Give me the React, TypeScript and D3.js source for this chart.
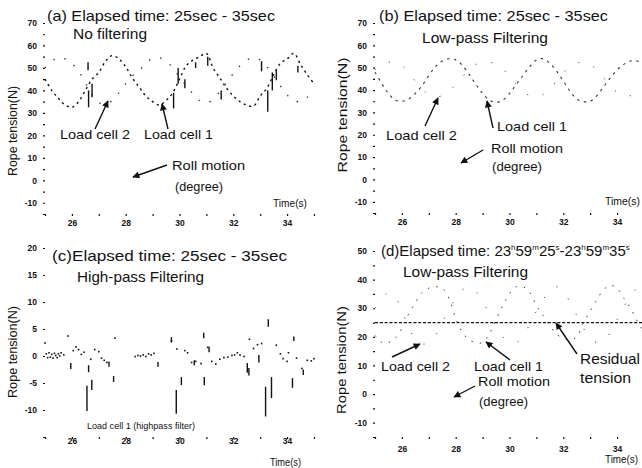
import React, { useEffect, useRef } from 'react';
import * as d3 from 'd3';

// sample times (s) for the sampled traces
const timeGrid = [25, 25.25, 25.5, 25.75, 26, 26.25, 26.5, 26.75, 27, 27.25, 27.5, 27.75, 28, 28.25, 28.5, 28.75, 29, 29.25, 29.5, 29.75, 30, 30.25, 30.5, 30.75, 31, 31.25, 31.5, 31.75, 32, 32.25, 32.5, 32.75, 33, 33.25, 33.5, 33.75, 34, 34.25, 34.5, 34.75, 35];
const timeTicks = [25, 26, 27, 28, 29, 30, 31, 32, 33, 34, 35];

// (a) no filtering
const rawCell1 = [45, 40, 36.5, 33.5, 32.5, 35, 40, 45, 48, 53, 55.5, 54, 50.5, 45.5, 41.5, 37.5, 35, 33.5, 35.5, 39, 45, 51, 53.5, 55, 56.5, 50, 45.5, 41, 37.5, 35, 33.5, 33, 37.5, 41, 47, 52, 54, 56.5, 51.5, 47, 43];
const rawCell2 = [50, 53, 54.5, 54, 52, 48.5, 43.5, 38, 34.5, 34, 35.5, 39, 43, 46.5, 48.5, 52.5, 54, 54.5, 53, 50, 46, 42, 38.5, 35.5, 34.5, 36, 39.5, 43.5, 47.5, 51, 53.5, 54.5, 53.5, 50.5, 46.5, 42, 38, 35.5, 35, 37, 40];
const rawSpikeTime = [26.6, 26.62, 26.75, 29.78, 29.95, 30.2, 30.6, 31.05, 31.55, 33.05, 33.28, 33.45, 33.6, 34.4];
const rawSpikeLow = [49, 32.5, 37, 32, 43, 41, 50, 51, 36, 48.5, 30.5, 40, 44.5, 48];
const rawSpikeHigh = [52.5, 40, 43, 39, 50, 45, 52.5, 55, 40, 53, 40, 48, 49, 51];

// (b) low-pass filtering
const lowCell1 = [48, 43, 38.5, 35.5, 35, 36, 38.5, 42, 46.5, 50.5, 53, 54, 53.5, 51, 47, 42.5, 38.5, 35.5, 34.5, 35.5, 38.5, 42.5, 46.5, 50.5, 53.5, 54, 52, 48.5, 44, 39.5, 36, 34.8, 35, 37.5, 41.5, 45.5, 49, 51.5, 53, 53, 51.5];
const lowCell2 = [49, 51.5, 52.5, 52.5, 51, 48, 44, 40.5, 38, 37, 37.5, 39.5, 42.5, 46, 49, 51.5, 52.5, 52.5, 51.5, 49.5, 46, 42.5, 39.5, 37.5, 37, 38, 40.5, 44, 47.5, 50.5, 52, 52.5, 51.5, 49, 45.5, 42, 39, 37.5, 37.5, 39, 41.5];

// (c) high-pass filtering, load cell 1
const hpDotTime = [25, 25.05, 25.1, 25.15, 25.2, 25.25, 25.3, 25.35, 25.4, 25.45, 25.5, 25.55, 25.6, 25.7, 25.85, 26.05, 26.15, 26.25, 26.35, 26.45, 26.7, 26.85, 27, 27.1, 27.2, 27.3, 27.6, 28.35, 28.45, 28.55, 28.65, 28.75, 28.85, 28.95, 29.05, 29.7, 29.9, 30.2, 30.3, 30.45, 30.6, 30.8, 31.05, 31.2, 31.35, 31.5, 31.65, 31.8, 31.95, 32.05, 32.15, 32.25, 32.4, 32.6, 32.75, 32.9, 33.05, 33.6, 33.75, 33.85, 34, 34.05, 34.35, 34.55, 34.75, 34.9, 35];
const hpDotValue = [2.4, 0.4, -0.3, 0.6, -0.2, 0.3, -0.4, 0.5, 0.1, -0.3, 0.4, 0, 0.6, 0.2, 3.7, 1, 1.7, 1.2, 0.3, 0.7, -0.6, 1.2, 0.8, -0.4, -0.8, -1.2, 3.3, -0.1, 0.1, 0, 0.2, -0.1, 0.4, 0.2, 0.5, 2.8, 1.3, 1, 0.6, -1.2, -1, -1.4, 1.6, -1, -1.5, -0.6, -0.3, -0.2, 0.1, 0.2, 0.6, 0.2, -0.1, 3.1, 1.4, 2.1, 2.3, 2, 0.4, -0.5, -1, 0.6, -0.4, -2.3, -0.8, -0.9, -0.5];
const hpSpikeTime = [25.96, 26.56, 26.62, 26.74, 27.38, 27.55, 29.2, 29.7, 29.88, 30.07, 30.55, 30.9, 30.92, 31.1, 32.52, 32.58, 32.95, 33.2, 33.3, 33.42, 34.2, 34.25, 34.6];
const hpSpikeLow = [-2.4, -10.2, -3, -6.3, -2, -4.8, -2, 2.5, -10.7, -5.4, -1.7, 3.3, -5.4, 0.7, -3.1, -3.6, -1.2, -11.2, 5.4, -7.8, -5.9, 2.8, -3.5];
const hpSpikeHigh = [-1.3, -5.5, -1.7, -4.4, -1, -3.7, -1.1, 3.5, -6.3, -3.9, -0.8, 4.3, -3.9, 1.7, -1.3, -2.2, 0.2, -5.7, 6.8, -3.9, -4.1, 3.6, -2.5];

// (d) low-pass filtering, 23h59m25s - 23h59m35s
const lateCell1 = [20.5, 18, 18, 19.5, 23, 28, 32, 35.5, 37, 37.5, 37, 33.5, 26.5, 21.5, 19, 18, 18, 21, 26, 31, 35, 37.5, 37.5, 35.5, 31, 27.5, 24, 21, 19.5, 19, 20, 25, 29, 33, 36.5, 38, 37, 33.5, 30, 25.5, 21.5];
const lateCell2 = [30, 33, 35.5, 34, 29, 23.5, 19, 17.5, 18, 20.5, 25, 29.5, 33.5, 36.5, 37.5, 36, 32.5, 28, 23.5, 20, 18, 18, 20, 24.5, 29, 33, 36.5, 37.5, 36, 32, 27.5, 23, 19.5, 18, 18.5, 21.5, 26, 30.5, 34.5, 37, 37.5];
const residualTension = 25;

const FONT = 'Liberation Sans, Arial, Helvetica, sans-serif';
const INK = '#111';

type Box = { left: number; bottom: number; top: number; yMin: number; yMax: number; labelStep: number; xLabelGap: number };

const boxA: Box = { left: 45, bottom: 214, top: 23, yMin: -15, yMax: 70, labelStep: 10, xLabelGap: 4 };
const boxB: Box = { left: 375, bottom: 213, top: 23, yMin: -15, yMax: 70, labelStep: 10, xLabelGap: 4 };
const boxC: Box = { left: 45, bottom: 437, top: 248, yMin: -15, yMax: 20, labelStep: 5, xLabelGap: -1 };
const boxD: Box = { left: 375, bottom: 437, top: 251, yMin: -15, yMax: 50, labelStep: 10, xLabelGap: 7 };

const Txt = ({ x, y, w, size = 13.5, anchor = 'start', children }: any) => (
  <text x={x} y={y} fontSize={size} textAnchor={anchor} fill={INK} fontFamily={FONT}
    textLength={w} lengthAdjust="spacingAndGlyphs">{children}</text>
);

const Arrow = ({ x1, y1, x2, y2 }: any) => (
  <line x1={x1} y1={y1} x2={x2} y2={y2} stroke={INK} strokeWidth={1.4} markerEnd="url(#head)" />
);

const Panel = ({ box, children }: { box: Box; children: (x: any, y: any) => React.ReactNode }) => {
  const leftRef = useRef<SVGGElement>(null);
  const bottomRef = useRef<SVGGElement>(null);
  const x = d3.scaleLinear().domain([25, 35]).range([box.left, box.left + 269]);
  const y = d3.scaleLinear().domain([box.yMin, box.yMax]).range([box.bottom, box.top]);

  useEffect(() => {
    const yTicks = d3.range(box.yMin, box.yMax + 1, 5);
    const left = d3.select(leftRef.current!)
      .call(d3.axisLeft(y).tickValues(yTicks).tickSize(2).tickPadding(6)
        .tickFormat((d: any) => (d % box.labelStep === 0 && d > box.yMin ? String(d) : '')));
    const bottom = d3.select(bottomRef.current!)
      .call(d3.axisBottom(x).tickValues(timeTicks).tickSize(2).tickPadding(box.xLabelGap)
        .tickFormat((d: any) => (d % 2 === 0 ? String(d) : '')));
    [left, bottom].forEach((g) => {
      g.select('.domain').remove();
      g.selectAll('line').attr('stroke', INK).attr('stroke-width', 1.2);
      g.selectAll('text').attr('font-family', FONT).attr('font-size', 8.5)
        .attr('font-weight', 'bold').attr('fill', INK);
    });
  });

  return (
    <g>
      <g ref={leftRef} transform={`translate(${box.left},0)`} />
      <g ref={bottomRef} transform={`translate(0,${box.bottom})`} />
      {children(x, y)}
    </g>
  );
};

const trace = (x: any, y: any, values: number[]) =>
  d3.line<number>().x((_, i) => x(timeGrid[i])).y((d) => y(d)).curve(d3.curveCatmullRom)(values) || '';

const Spikes = ({ x, y, t, lo, hi, w = 1.4 }: any) => (
  <g stroke={INK} strokeWidth={w}>
    {t.map((v: number, i: number) => (
      <line key={i} x1={x(v)} x2={x(v)} y1={y(lo[i])} y2={y(hi[i])} />
    ))}
  </g>
);

export default function App() {
  return (
    <svg width={642} height={468} style={{ position: 'absolute', left: 0, top: 0, background: '#fff' }}>
      <defs>
        <marker id="head" viewBox="0 0 10 10" refX={9} refY={5} markerWidth={6} markerHeight={5}
          orient="auto" markerUnits="strokeWidth">
          <path d="M0,0 L10,5 L0,10 z" fill={INK} />
        </marker>
      </defs>
      <rect width={642} height={468} fill="#fff" />

      {/* (a) */}
      <Panel box={boxA}>
        {(x, y) => (
          <g>
            <path d={trace(x, y, rawCell1)} fill="none" stroke={INK} strokeWidth={1.4} strokeDasharray="2.2 3.6" />
            <path d={trace(x, y, rawCell2)} fill="none" stroke="#333" strokeWidth={1.3} strokeDasharray="1.5 10" />
            <Spikes x={x} y={y} t={rawSpikeTime} lo={rawSpikeLow} hi={rawSpikeHigh} />
          </g>
        )}
      </Panel>
      <Txt x={47} y={21} w={228} size={15}>(a) Elapsed time: 25sec - 35sec</Txt>
      <Txt x={73} y={39} w={74} size={15}>No filtering</Txt>
      <Txt x={60} y={139} w={70}>Load cell 2</Txt>
      <Txt x={144} y={139} w={69}>Load cell 1</Txt>
      <Txt x={172} y={170} w={73}>Roll motion</Txt>
      <Txt x={175} y={191} w={48}>(degree)</Txt>
      <Txt x={273} y={207} w={34} size={10}>Time(s)</Txt>
      <Arrow x1={95} y1={129} x2={108} y2={101} />
      <Arrow x1={168} y1={129} x2={162} y2={104} />
      <Arrow x1={167} y1={165} x2={133} y2={177} />
      <g transform="translate(13,131) rotate(-90)">
        <Txt x={0} y={4} w={90} size={13} anchor="middle">Rope tension(N)</Txt>
      </g>

      {/* (b) */}
      <Panel box={boxB}>
        {(x, y) => (
          <g>
            <path d={trace(x, y, lowCell1)} fill="none" stroke="#333" strokeWidth={1.1} strokeDasharray="2.5 4.5" />
            <path d={trace(x, y, lowCell2)} fill="none" stroke="#444" strokeWidth={1} strokeDasharray="1.2 15" />
          </g>
        )}
      </Panel>
      <Txt x={379} y={21} w={229} size={15}>(b) Elapsed time: 25sec - 35sec</Txt>
      <Txt x={422} y={43} w={126} size={15}>Low-pass Filtering</Txt>
      <Txt x={386} y={140} w={71}>Load cell 2</Txt>
      <Txt x={497} y={131} w={70}>Load cell 1</Txt>
      <Txt x={491} y={153} w={72}>Roll motion</Txt>
      <Txt x={492} y={171} w={50}>(degree)</Txt>
      <Txt x={605} y={205} w={35} size={10}>Time(s)</Txt>
      <Arrow x1={425} y1={126} x2={438} y2={98} />
      <Arrow x1={493} y1={128} x2={487} y2={101} />
      <Arrow x1={483} y1={150} x2={461} y2={163} />
      <g transform="translate(343,115) rotate(-90)">
        <Txt x={0} y={4} w={115} size={13.5} anchor="middle">Rope tension(N)</Txt>
      </g>

      {/* (c) */}
      <Panel box={boxC}>
        {(x, y) => (
          <g>
            <g fill={INK}>
              {hpDotTime.map((t, i) => (
                <rect key={i} x={x(t) - 0.8} y={y(hpDotValue[i]) - 0.8} width={1.6} height={1.6} />
              ))}
            </g>
            <Spikes x={x} y={y} t={hpSpikeTime} lo={hpSpikeLow} hi={hpSpikeHigh} />
          </g>
        )}
      </Panel>
      <Txt x={52} y={261} w={235} size={15}>(c)Elapsed time: 25sec - 35sec</Txt>
      <Txt x={77} y={282} w={127} size={15}>High-pass Filtering</Txt>
      <Txt x={87} y={429} w={108} size={9.5}>Load cell 1 (highpass filter)</Txt>
      <Txt x={270} y={466} w={31} size={10}>Time(s)</Txt>
      <g transform="translate(13,352) rotate(-90)">
        <Txt x={0} y={4} w={92} size={13} anchor="middle">Rope tension(N)</Txt>
      </g>

      {/* (d) */}
      <Panel box={boxD}>
        {(x, y) => (
          <g>
            <line x1={x(25)} x2={642} y1={y(residualTension)} y2={y(residualTension)}
              stroke={INK} strokeWidth={1.2} strokeDasharray="3 1.8" />
            <path d={trace(x, y, lateCell1)} fill="none" stroke="#333" strokeWidth={1} strokeDasharray="1.5 7" />
            <path d={trace(x, y, lateCell2)} fill="none" stroke="#444" strokeWidth={1} strokeDasharray="1.2 16" />
          </g>
        )}
      </Panel>
      <text x={381} y={256} fontSize={15} fill={INK} fontFamily={FONT}>
        (d)Elapsed time: 23<tspan fontSize={8} dy={-6}>h</tspan>
        <tspan dy={6}>59</tspan><tspan fontSize={8} dy={-6}>m</tspan>
        <tspan dy={6}>25</tspan><tspan fontSize={8} dy={-6}>s</tspan>
        <tspan dy={6}>-23</tspan><tspan fontSize={8} dy={-6}>h</tspan>
        <tspan dy={6}>59</tspan><tspan fontSize={8} dy={-6}>m</tspan>
        <tspan dy={6}>35</tspan><tspan fontSize={8} dy={-6}>s</tspan>
      </text>
      <Txt x={403} y={277} w={125} size={15}>Low-pass Filtering</Txt>
      <Txt x={381} y={371} w={69}>Load cell 2</Txt>
      <Txt x={474} y={371} w={69}>Load cell 1</Txt>
      <Txt x={478} y={386} w={72}>Roll motion</Txt>
      <Txt x={479} y={406} w={49}>(degree)</Txt>
      <Txt x={580} y={364} w={60} size={14}>Residual</Txt>
      <Txt x={580} y={383} w={51} size={14}>tension</Txt>
      <Txt x={605} y={463} w={33} size={10}>Time(s)</Txt>
      <Arrow x1={392} y1={357} x2={420} y2={344} />
      <Arrow x1={510} y1={360} x2={486} y2={342} />
      <Arrow x1={475} y1={386} x2={454} y2={397} />
      <Arrow x1={577} y1={354} x2={556} y2={323} />
      <g transform="translate(342,360) rotate(-90)">
        <Txt x={0} y={4} w={108} size={13.5} anchor="middle">Rope tension(N)</Txt>
      </g>
    </svg>
  );
}
